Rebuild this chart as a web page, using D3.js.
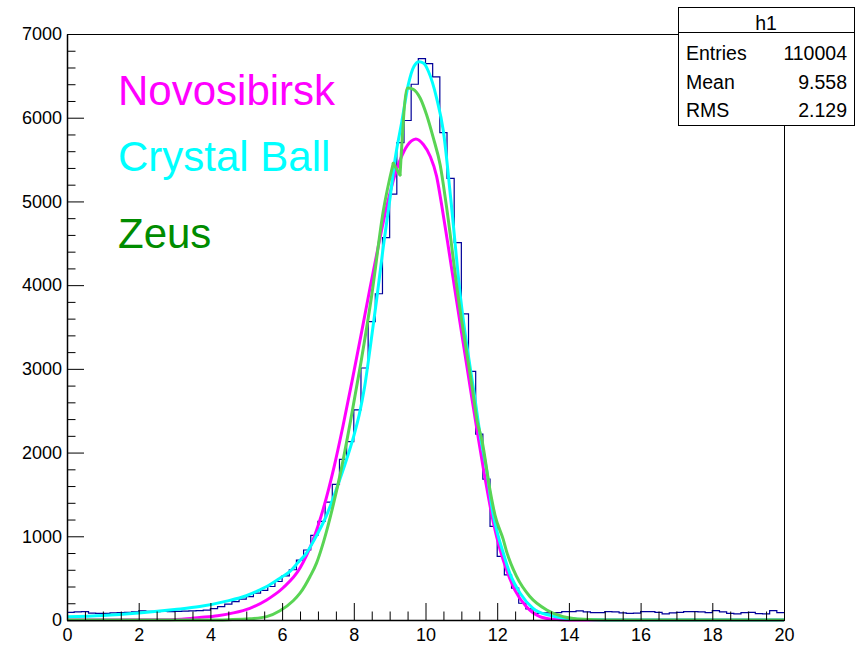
<!DOCTYPE html>
<html>
<head>
<meta charset="utf-8">
<script src="https://cdn.jsdelivr.net/npm/d3@7"></script>
<style>
  html, body { margin: 0; padding: 0; background: #fff; }
  svg { display: block; font-family: "Liberation Sans", Arial, Helvetica, sans-serif; }
</style>
</head>
<body>
<svg id="chart" width="856" height="647"></svg>
<script>
// Histogram h1: 100 bins over [0, 20]
const xMin = 0, xMax = 20, nBins = 100;
const binCounts = [
  92, 96, 100, 82, 80, 80, 84, 88, 92, 96,
  108, 104, 100, 102, 100, 104, 106, 110, 112, 118,
  136, 160, 190, 220, 250, 280, 320, 355, 400, 460,
  528, 600, 716, 836, 1010, 1179, 1407, 1619, 1918, 2130,
  2510, 3010, 3565, 3897, 4568, 5088, 5703, 5967, 6400, 6706,
  6646, 6487, 5823, 5276, 4508, 3657, 2970, 2220, 1683, 1119,
  759, 540, 380, 200, 132, 80, 84, 84, 88, 100,
  100, 108, 96, 88, 88, 100, 96, 84, 80, 82,
  100, 100, 92, 72, 86, 90, 100, 100, 96, 88,
  112, 96, 80, 72, 88, 90, 76, 74, 112, 88
];

// Fitted functions, sampled as [x, value]
const novosibirskPts = [
  [0, 0], [2.5, 2], [3.2, 10], [3.7, 30], [4.2, 52], [4.64, 85], [5.1, 140], [5.57, 240],
  [6.03, 385], [6.5, 620], [6.85, 940], [7.15, 1330], [7.45, 1830], [7.7, 2320], [7.95, 2850],
  [8.2, 3400], [8.45, 3960], [8.7, 4500], [8.93, 4960], [9.15, 5320], [9.4, 5600], [9.6, 5720],
  [9.73, 5747], [9.94, 5680], [10.13, 5540], [10.31, 5300], [10.45, 4960], [10.65, 4420],
  [10.85, 3860], [11.07, 3260], [11.29, 2660], [11.47, 2180], [11.61, 1820], [11.75, 1480],
  [11.9, 1150], [12.08, 840], [12.26, 600], [12.49, 360], [12.81, 160], [13.19, 40], [13.56, 8],
  [14, 0], [20, 0]
];
const crystalBallPts = [
  [0, 38], [1, 55], [2, 85], [3, 125], [3.7, 160], [4.45, 225], [5.0, 290], [5.38, 360], [5.57, 400],
  [5.94, 500], [6.22, 580], [6.45, 690], [6.68, 800], [6.9, 960], [7.24, 1250], [7.52, 1570],
  [7.8, 1920], [8.0, 2200], [8.15, 2450], [8.3, 2780], [8.45, 3230], [8.64, 3837], [8.82, 4450],
  [9.01, 5036], [9.15, 5500], [9.34, 5955], [9.52, 6395], [9.68, 6615], [9.82, 6670], [9.95, 6650],
  [10.08, 6555], [10.31, 6235], [10.5, 5835], [10.7, 5050], [10.98, 3840], [11.38, 2640],
  [11.54, 2170], [11.71, 1780], [11.87, 1300], [12.0, 1050], [12.17, 800], [12.35, 560],
  [12.64, 320], [13.0, 140], [13.47, 55], [13.9, 20], [14.5, 5], [15, 0], [20, 0]
];
const zeusPts = [
  [0, 0], [4, 0], [4.5, 4], [5.1, 14], [5.57, 40], [5.94, 110], [6.31, 230], [6.5, 320], [6.78, 520],
  [6.96, 680], [7.16, 940], [7.43, 1380], [7.66, 1820], [7.91, 2380], [8.2, 3080], [8.5, 3880],
  [8.82, 4880], [9.1, 5456], [9.29, 5316], [9.5, 6355], [9.66, 6340], [9.85, 6235], [10.03, 6035],
  [10.22, 5755], [10.41, 5435], [10.58, 4956], [10.92, 3837], [11.35, 2638], [11.43, 2398],
  [11.57, 2158], [11.8, 1550], [11.94, 1250], [12.17, 960], [12.26, 820], [12.54, 520],
  [12.91, 280], [13.38, 120], [13.84, 40], [14.4, 8], [15, 0], [20, 0]
];
// Zeus has a corner where its two branches meet; those points are joined straight
const zeusCornerX = [9.1, 9.29];

const legendLabels = ["Novosibirsk", "Crystal Ball", "Zeus"];
const statsTitle = "h1";
const statsRows = [["Entries", "110004"], ["Mean", "9.558"], ["RMS", "2.129"]];
const yMajorTicks = [0, 1000, 2000, 3000, 4000, 5000, 6000, 7000];
const xMajorTicks = [0, 2, 4, 6, 8, 10, 12, 14, 16, 18, 20];

const svg = d3.select("#chart");
const frame = { left: 67, right: 784, top: 34, bottom: 620 };

const x = d3.scaleLinear().domain([xMin, xMax]).range([frame.left, frame.right]);
const y = d3.scaleLinear().domain([0, 7000]).range([frame.bottom, frame.top]);

svg.append("defs").append("clipPath").attr("id", "frameClip")
  .append("rect")
  .attr("x", frame.left).attr("y", frame.top - 2)
  .attr("width", frame.right - frame.left).attr("height", frame.bottom - frame.top + 4);

// Frame box
svg.append("rect")
  .attr("x", frame.left + 0.5).attr("y", frame.top + 0.5)
  .attr("width", frame.right - frame.left).attr("height", frame.bottom - frame.top)
  .attr("fill", "none").attr("stroke", "#000").attr("stroke-width", 1);

// Histogram outline as steps
const binW = (xMax - xMin) / nBins;
const stepPts = [];
binCounts.forEach((c, i) => {
  stepPts.push([xMin + i * binW, c]);
  stepPts.push([xMin + (i + 1) * binW, c]);
});
const stepLine = d3.line().x(d => x(d[0])).y(d => y(d[1]));
svg.append("path")
  .attr("d", stepLine(stepPts))
  .attr("fill", "none").attr("stroke", "#000099").attr("stroke-width", 1.2)
  .attr("clip-path", "url(#frameClip)");

// Fit curves
const smoothLine = d3.line().x(d => x(d[0])).y(d => y(d[1])).curve(d3.curveMonotoneX);
const straightLine = d3.line().x(d => x(d[0])).y(d => y(d[1]));

function drawCurve(pieces, color) {
  const g = svg.append("g").attr("clip-path", "url(#frameClip)");
  pieces.forEach(p => {
    g.append("path")
      .attr("d", p.gen(p.pts))
      .attr("fill", "none").attr("stroke", color).attr("stroke-width", 3)
      .attr("stroke-linejoin", "round").attr("stroke-linecap", "round");
  });
}

drawCurve([{ pts: novosibirskPts, gen: smoothLine }], "#ff00ff");
drawCurve([{ pts: crystalBallPts, gen: smoothLine }], "#00ffff");
drawCurve([
  { pts: zeusPts.filter(d => d[0] <= zeusCornerX[0]), gen: smoothLine },
  { pts: zeusPts.filter(d => d[0] >= zeusCornerX[0] && d[0] <= zeusCornerX[1]), gen: straightLine },
  { pts: zeusPts.filter(d => d[0] >= zeusCornerX[1]), gen: smoothLine }
], "#59d454");

// Axes (ticks pointing into the frame)
const fontSize = 18;
const yMinor = d3.range(0, 7001, 200).filter(v => v % 1000 !== 0);
svg.append("g").attr("transform", `translate(${frame.left},0)`)
  .call(d3.axisLeft(y).tickValues(yMinor).tickSize(-8.5).tickFormat("").tickSizeOuter(0))
  .call(g => g.select(".domain").remove());
const yAxis = svg.append("g").attr("transform", `translate(${frame.left},0)`)
  .call(d3.axisLeft(y).tickValues(yMajorTicks).tickSize(-17).tickSizeOuter(0).tickPadding(5).tickFormat(d3.format("d")));
yAxis.selectAll("text").attr("font-size", fontSize).attr("fill", "#000")
  .attr("font-family", "Liberation Sans, Arial, Helvetica, sans-serif");
yAxis.select(".domain").attr("stroke-width", 1.5);

const xMinor = d3.range(0, 20.01, 0.5).filter(v => Math.abs(v % 2) > 1e-9);
svg.append("g").attr("transform", `translate(0,${frame.bottom})`)
  .call(d3.axisBottom(x).tickValues(xMinor).tickSize(-8.5).tickFormat("").tickSizeOuter(0))
  .call(g => g.select(".domain").remove());
const xAxis = svg.append("g").attr("transform", `translate(0,${frame.bottom})`)
  .call(d3.axisBottom(x).tickValues(xMajorTicks).tickSize(-17).tickSizeOuter(0).tickPadding(8).tickFormat(d3.format("d")));
xAxis.selectAll("text").attr("font-size", fontSize).attr("fill", "#000")
  .attr("font-family", "Liberation Sans, Arial, Helvetica, sans-serif");
xAxis.select(".domain").attr("stroke-width", 1.5);

// Legend texts
const legendColors = ["#ff00ff", "#00ffff", "#008c00"];
const legendY = [105, 171, 248];
legendLabels.forEach((t, i) => {
  svg.append("text")
    .attr("x", 118).attr("y", legendY[i])
    .attr("font-size", 42).attr("fill", legendColors[i])
    .text(t);
});

// Statistics box
const sb = { x: 678, y: 7, w: 176, h: 118, titleH: 25 };
svg.append("rect")
  .attr("x", sb.x + 0.5).attr("y", sb.y + 0.5).attr("width", sb.w).attr("height", sb.h)
  .attr("fill", "#fff").attr("stroke", "#000").attr("stroke-width", 1);
svg.append("line")
  .attr("x1", sb.x).attr("x2", sb.x + sb.w)
  .attr("y1", sb.y + sb.titleH + 0.5).attr("y2", sb.y + sb.titleH + 0.5)
  .attr("stroke", "#000");
svg.append("text")
  .attr("x", sb.x + sb.w / 2).attr("y", 30).attr("text-anchor", "middle")
  .attr("font-size", 19.5).text(statsTitle);
const rowY = [60, 88.5, 117];
statsRows.forEach((r, i) => {
  svg.append("text").attr("x", 686).attr("y", rowY[i]).attr("font-size", 19.5).text(r[0]);
  svg.append("text").attr("x", 847).attr("y", rowY[i]).attr("font-size", 19.5)
    .attr("text-anchor", "end").text(r[1]);
});
</script>
</body>
</html>
